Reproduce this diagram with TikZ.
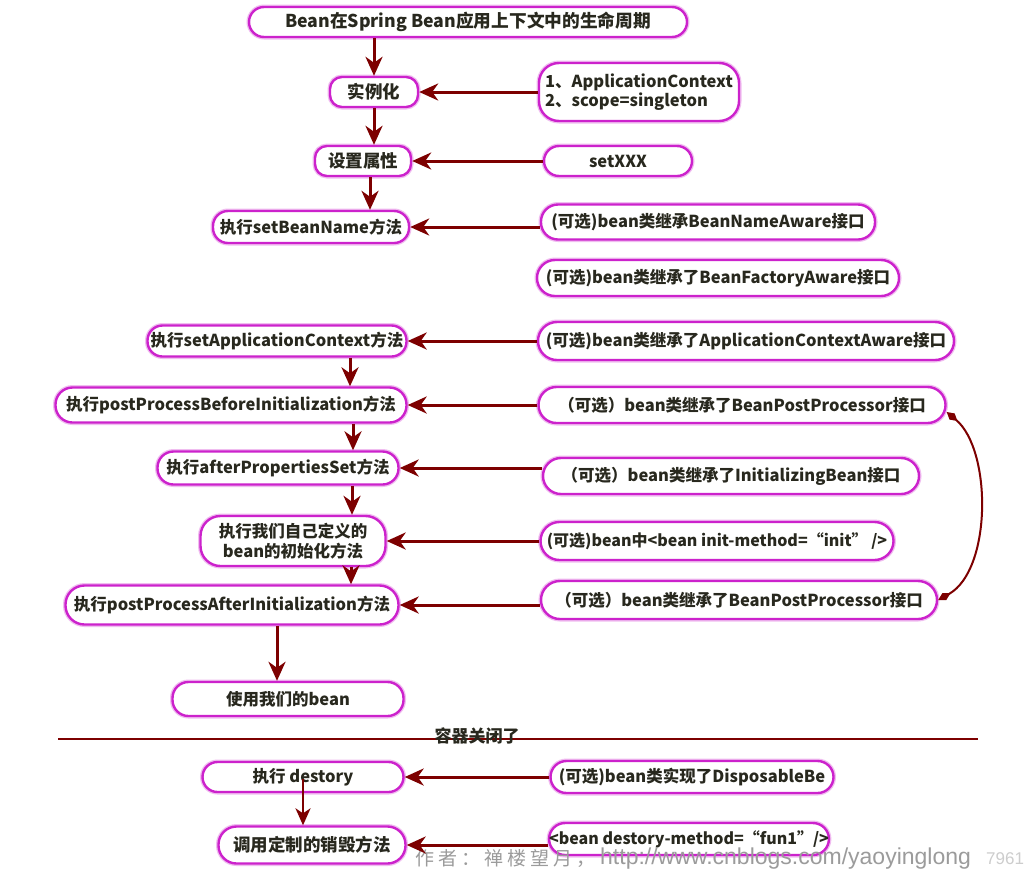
\documentclass[tikz,border=0pt]{standalone}
\usepackage{fontspec}
\setmainfont{Noto Sans CJK SC}
\newfontfamily\wmcjk{Noto Sans CJK SC}
\newfontfamily\wmlat{Liberation Sans}
\usetikzlibrary{arrows.meta}
\definecolor{mag}{RGB}{204,34,204}
\definecolor{arrc}{RGB}{125,0,0}
\definecolor{txt}{RGB}{40,40,30}
\definecolor{wmc}{RGB}{155,155,155}
\definecolor{wmc2}{RGB}{205,205,205}
\begin{document}
\begin{tikzpicture}[x=1pt,y=-1pt,
  nd/.style={draw=mag, line width=2.4pt, fill=white, text=txt, inner sep=0pt,
    align=center, font=\fontsize{16.5pt}{19pt}\selectfont\bfseries,
    preaction={draw=mag!30, line width=5pt}},
  arr/.style={draw=arrc, line width=3pt, -{Stealth[length=19pt,width=17pt,inset=6pt]}},
  arrthin/.style={draw=arrc, line width=2.2pt, -{Stealth[length=17pt,width=15pt,inset=5pt]}},
  curv/.style={draw=arrc, line width=2pt,
    {Diamond[length=14pt,width=8pt]}-{Diamond[length=14pt,width=8pt]}},
  sepline/.style={draw=arrc, line width=2.6pt},
  lbl/.style={text=txt, font=\fontsize{17pt}{19pt}\selectfont\bfseries, inner sep=0pt}
]
\useasboundingbox[fill=white] (0,0) rectangle (1024,879);

% left column
\node[nd, minimum width=438pt, minimum height=30pt, rounded corners=15pt] (title) at (468,22)
  {\fontsize{17.7pt}{19pt}\selectfont Bean在Spring Bean应用上下文中的生命周期};
\node[nd, minimum width=88pt, minimum height=30pt, rounded corners=12pt] (inst) at (374,92) {\fontsize{17.5pt}{19pt}\selectfont 实例化};
\node[nd, minimum width=96pt, minimum height=30pt, rounded corners=12pt] (setp) at (363,161) {\fontsize{17.5pt}{19pt}\selectfont 设置属性};
\node[nd, minimum width=196pt, minimum height=32pt, rounded corners=15pt] (sbn) at (311,227) {执行setBeanName方法};
\node[nd, minimum width=259pt, minimum height=31pt, rounded corners=15pt] (sac) at (277,341) {执行setApplicationContext方法};
\node[nd, minimum width=351pt, minimum height=35pt, rounded corners=17pt] (ppb) at (231,405) {执行postProcessBeforeInitialization方法};
\node[nd, minimum width=241pt, minimum height=33pt, rounded corners=16pt] (aps) at (278,468) {执行afterPropertiesSet方法};
\node[nd, minimum width=185pt, minimum height=50pt, rounded corners=20pt, font=\fontsize{16.5pt}{20pt}\selectfont\bfseries] (init) at (293,541) {执行我们自己定义的\\bean的初始化方法};
\node[nd, minimum width=333pt, minimum height=39pt, rounded corners=19pt] (ppa) at (232,605) {执行postProcessAfterInitialization方法};
\node[nd, minimum width=231pt, minimum height=34pt, rounded corners=16pt] (use) at (288,699) {使用我们的bean};
\node[nd, minimum width=201pt, minimum height=30pt, rounded corners=15pt] (destroy) at (303,777) {执行 destory};
\node[nd, minimum width=187pt, minimum height=37pt, rounded corners=18pt] (calld) at (312,845) {\fontsize{17.5pt}{19pt}\selectfont 调用定制的销毁方法};

% right column
\node[nd, minimum width=200pt, minimum height=58pt, rounded corners=20pt, align=left] (box1) at (639,92)
  {1、ApplicationContext\\2、scope=singleton};
\node[nd, minimum width=148pt, minimum height=30pt, rounded corners=15pt] (setx) at (618,161) {setXXX};
\node[nd, minimum width=334pt, minimum height=35pt, rounded corners=17pt] (bna) at (708,222) {(可选)bean类继承BeanNameAware接口};
\node[nd, minimum width=362pt, minimum height=36pt, rounded corners=18pt] (bfa) at (718,278) {(可选)bean类继承了BeanFactoryAware接口};
\node[nd, minimum width=416pt, minimum height=38pt, rounded corners=19pt] (aca) at (746,341) {(可选)bean类继承了ApplicationContextAware接口};
\node[nd, minimum width=407pt, minimum height=36pt, rounded corners=18pt] (bpp1) at (742,405) {（可选）bean类继承了BeanPostProcessor接口};
\node[nd, minimum width=376pt, minimum height=36pt, rounded corners=18pt] (ib) at (731,476) {（可选）bean类继承了InitializingBean接口};
\node[nd, minimum width=353pt, minimum height=38pt, rounded corners=19pt] (im) at (717,541) {\fontsize{16pt}{19pt}\selectfont (可选)bean中<bean init-method=“init” />};
\node[nd, minimum width=396pt, minimum height=38pt, rounded corners=19pt] (bpp2) at (739,600) {（可选）bean类继承了BeanPostProcessor接口};
\node[nd, minimum width=283pt, minimum height=32pt, rounded corners=16pt] (disp) at (692,777) {(可选)bean类实现了DisposableBe};
\node[nd, minimum width=270pt, minimum height=32pt, rounded corners=16pt] (dm) at (689,839) {\fontsize{16pt}{19pt}\selectfont <bean destory-method=“fun1”/>};

% separator
\coordinate (sepL) at (58,739);
\coordinate (sepR) at (978,739);
\draw[sepline] (sepL) -- (sepR);
\node[lbl] (closed) at (477,736) {容器关闭了};

% watermark
\node[anchor=west, text=wmc, inner sep=0pt, font=\wmcjk\fontsize{19pt}{20pt}\selectfont] (wm1) at (415,859)
  {作\kern4pt 者\kern4pt ：\kern4pt 禅\kern4pt 楼\kern4pt 望\kern4pt 月\kern4pt ，};
\node[anchor=west, text=wmc, inner sep=0pt, font=\wmlat\fontsize{23pt}{24pt}\selectfont] (wm2) at (600,859)
  {http://www.cnblogs.com/yaoyinglong};
\node[anchor=west, text=wmc2, inner sep=0pt, font=\wmlat\fontsize{17pt}{18pt}\selectfont] (wm3) at (986,859) {7961};

% vertical arrows
\draw[arr] (inst.north |- title.south) -- (inst.north);
\draw[arr] (inst.south) -- (inst.south |- setp.north);
\path ([xshift=7pt]setp.south) coordinate (v3);
\draw[arr] (v3) -- (v3 |- sbn.north);
\path ([xshift=73pt]sac.south) coordinate (v4);
\draw[arr] (v4) -- (v4 |- ppb.north);
\path ([xshift=122pt]ppb.south) coordinate (v5);
\draw[arr] (v5) -- (v5 |- aps.north);
\path ([xshift=74pt]aps.south) coordinate (v6);
\draw[arr] (v6) -- (v6 |- init.north);
\path ([xshift=58pt]init.south) coordinate (v7);
\draw[arr] (v7) -- (v7 |- ppa.north);
\path ([xshift=45pt]ppa.south) coordinate (v8);
\draw[arr] (v8) -- (v8 |- use.north);
\path ([yshift=-2pt]destroy.center) coordinate (v9);
\draw[arrthin] (v9) -- (v9 |- calld.north);

% horizontal arrows
\draw[arr] (box1.west |- inst.east) -- (inst.east);
\draw[arr] (setx.west) -- (setx.west -| setp.east);
\draw[arr] (sbn.east -| bna.west) -- (sbn.east);
\draw[arr] (aca.west) -- (aca.west -| sac.east);
\draw[arr] (bpp1.west) -- (bpp1.west -| ppb.east);
\draw[arr] (aps.east -| ib.west) -- (aps.east);
\draw[arr] (im.west) -- (im.west -| init.east);
\draw[arr] (ppa.east -| bpp2.west) -- (ppa.east);
\draw[arr] (disp.west) -- (disp.west -| destroy.east);
\draw[arr] (calld.east -| dm.west) -- (calld.east);

% curved connector
\path ([yshift=-7pt]bpp1.east) coordinate (c1);
\draw[curv] (c1) .. controls (992,450) and (992,570) .. (bpp2.east);
\end{tikzpicture}
\end{document}
